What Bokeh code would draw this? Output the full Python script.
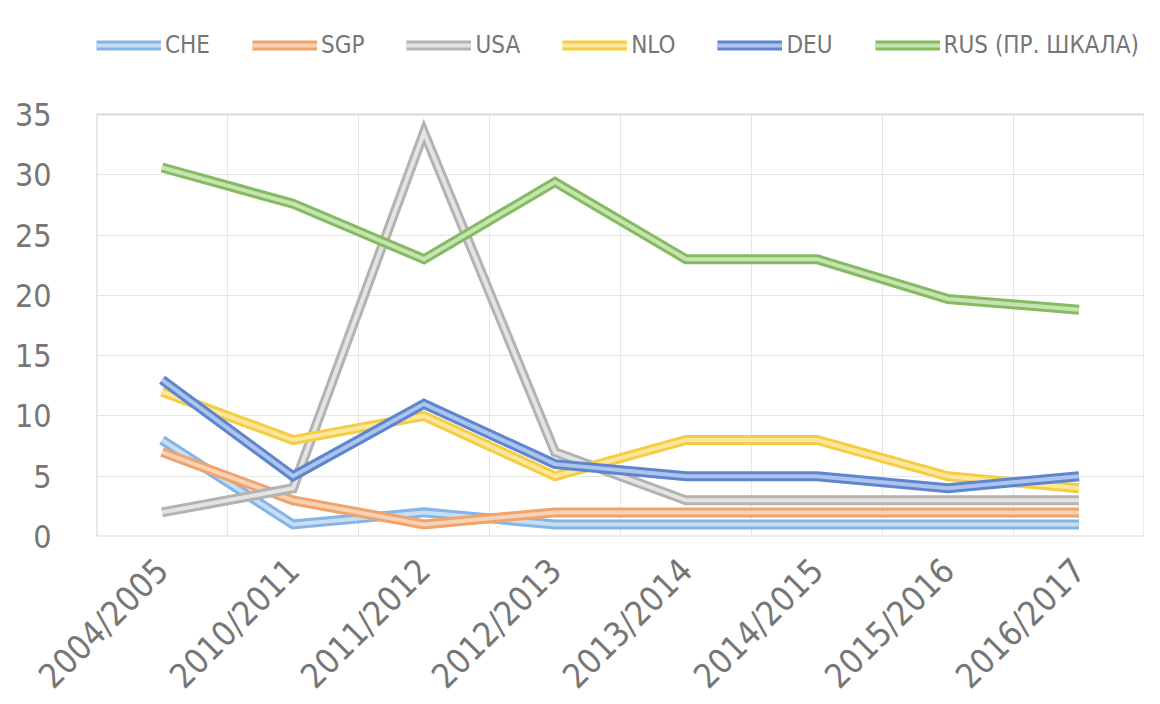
import numpy as np
from bokeh.plotting import figure
from bokeh.models import FixedTicker, Legend, LegendItem, ColumnDataSource
from bokeh.embed import file_html
from bokeh.resources import INLINE

categories = ["2004/2005", "2010/2011", "2011/2012", "2012/2013",
              "2013/2014", "2014/2015", "2015/2016", "2016/2017"]
CHE = [8, 1, 2, 1, 1, 1, 1, 1]
SGP = [7, 3, 1, 2, 2, 2, 2, 2]
USA = [2, 4, 33.5, 7, 3, 3, 3, 3]
NLO = [12, 8, 10, 5, 8, 8, 5, 4]
DEU = [13, 5, 11, 6, 5, 5, 4, 5]
RUS = [30.6, 27.6, 23, 29.4, 23, 23, 19.7, 18.8]
y_ticks = [0, 5, 10, 15, 20, 25, 30, 35]

series_names = ["CHE", "SGP", "USA", "NLO", "DEU", "RUS (ПР. ШКАЛА)"]
series_values = [CHE, SGP, USA, NLO, DEU, RUS]
outer_colors = ["#86b4e4", "#efa36d", "#b3b3b3", "#f5cd45", "#5e86cf", "#84bb60"]
inner_colors = ["#c6def6", "#f9d2b3", "#e4e4e4", "#fde79c", "#adc4ee", "#c6e4b1"]

FONT = "DejaVu Sans Condensed"
TEXT = "#767676"
GRID = "#e6e6e6"

y_max = y_ticks[-1]
n = len(categories)
# extra headroom above the value axis holds the legend
p = figure(frame_width=1048, frame_height=526, output_backend="svg",
           toolbar_location=None,
           x_range=(0, n), y_range=(0, y_max * 526 / 422),
           min_border_left=96, min_border_right=0, min_border_top=10,
           min_border_bottom=152)
p.outline_line_color = None
p.xgrid.visible = False
p.ygrid.ticker = FixedTicker(ticks=y_ticks)
p.ygrid.grid_line_color = GRID

# vertical category separators and plot-area box (limited to the value axis)
bounds = list(range(0, n + 1))
p.segment(x0=bounds, y0=[0] * len(bounds), x1=bounds, y1=[y_max] * len(bounds),
          line_color=GRID, line_width=1)
p.quad(left=[0], right=[n], bottom=[0], top=[y_max], fill_color=None,
       line_color="#d9d9d9", line_width=2)

xs = np.arange(n) + 0.5
items = []
for name, vals, oc, ic in zip(series_names, series_values, outer_colors, inner_colors):
    src = ColumnDataSource(dict(x=xs, y=vals))
    r1 = p.line("x", "y", source=src, line_color=oc, line_width=10, line_join="miter")
    r2 = p.line("x", "y", source=src, line_color=ic, line_width=4, line_join="miter")
    items.append(LegendItem(label=name, renderers=[r1, r2]))

legend = Legend(items=items, orientation="horizontal", location=(0, 476),
                glyph_width=65, glyph_height=30, label_standoff=4, spacing=42,
                padding=0, margin=0, border_line_color=None,
                background_fill_alpha=0,
                label_text_font=FONT, label_text_font_size="24px",
                label_text_color=TEXT)
p.add_layout(legend, "center")

p.xaxis.ticker = FixedTicker(ticks=list(xs))
p.xaxis.major_label_overrides = {float(x): c for x, c in zip(xs, categories)}
p.xaxis.major_label_orientation = np.pi / 4
p.xaxis.major_label_text_font = FONT
p.xaxis.major_label_text_font_size = "34px"
p.xaxis.major_label_text_color = TEXT
p.xaxis.major_label_standoff = 22
p.xaxis.axis_line_color = None
p.xaxis.major_tick_line_color = None
p.xaxis.minor_tick_line_color = None

p.yaxis.ticker = FixedTicker(ticks=y_ticks)
p.yaxis.major_label_text_font = FONT
p.yaxis.major_label_text_font_size = "32px"
p.yaxis.major_label_text_color = TEXT
p.yaxis.major_tick_out = 0
p.yaxis.major_label_standoff = 45
p.yaxis.axis_line_color = None
p.yaxis.major_tick_line_color = None
p.yaxis.minor_tick_line_color = None

open("out.html", "w").write(file_html(p, INLINE))
